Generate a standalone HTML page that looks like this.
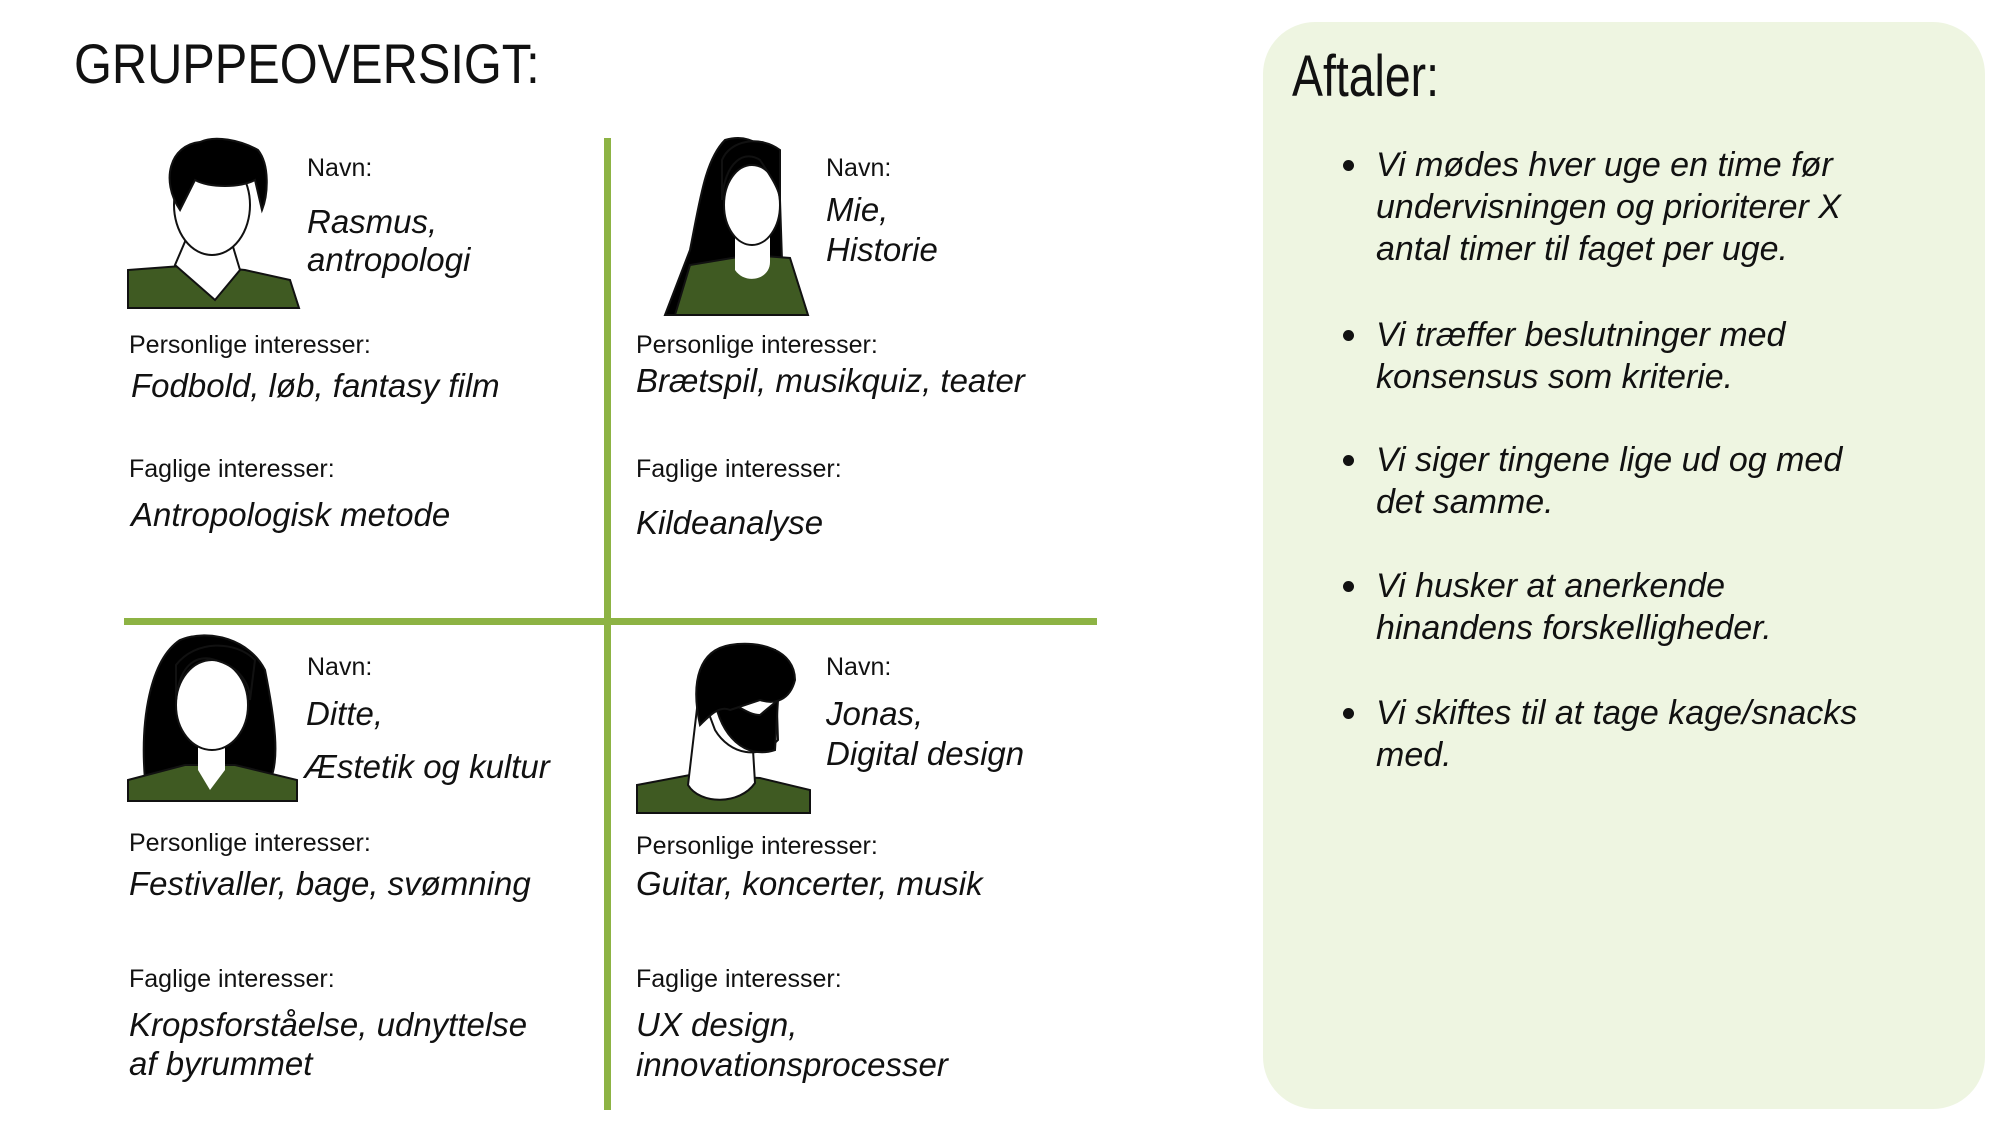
<!DOCTYPE html>
<html><head><meta charset="utf-8"><style>
body{margin:0;width:2000px;height:1130px;background:#fff;position:relative;overflow:hidden;font-family:"Liberation Sans",sans-serif;color:#111}
.t{position:absolute;white-space:nowrap}
.l{font-size:25px;line-height:30px}
.v{font-style:italic;font-size:33px;line-height:40px}
.a{font-style:italic;font-size:34px;line-height:42px;left:1376px}
.d{position:absolute;left:1343px;width:11px;height:11px;border-radius:50%;background:#111}
</style></head><body>
<div class="t" style="left:74px;top:30px;font-size:56px;line-height:68px;transform:scaleX(0.87);transform-origin:left">GRUPPEOVERSIGT:</div>
<div style="position:absolute;left:604px;top:138px;width:7px;height:972px;background:#8db344"></div>
<div style="position:absolute;left:124px;top:618px;width:973px;height:7px;background:#8db344"></div>
<div style="position:absolute;left:1263px;top:22px;width:722px;height:1087px;border-radius:52px;background:#eef5e1"></div>
<div class="t" style="left:1292px;top:43px;font-size:58px;line-height:68px;transform:scaleX(0.8);transform-origin:left">Aftaler:</div>

<div class="d" style="top:160px"></div>
<div class="t a" style="top:144px">Vi mødes hver uge en time før<br>undervisningen og prioriterer X<br>antal timer til faget per uge.</div>
<div class="d" style="top:330px"></div>
<div class="t a" style="top:314px">Vi træffer beslutninger med<br>konsensus som kriterie.</div>
<div class="d" style="top:455px"></div>
<div class="t a" style="top:439px">Vi siger tingene lige ud og med<br>det samme.</div>
<div class="d" style="top:581px"></div>
<div class="t a" style="top:565px">Vi husker at anerkende<br>hinandens forskelligheder.</div>
<div class="d" style="top:708px"></div>
<div class="t a" style="top:692px">Vi skiftes til at tage kage/snacks<br>med.</div>

<svg style="position:absolute;left:0;top:0" width="1100" height="1130">
<g stroke="#111" stroke-width="2">
<path d="M128 270 L195 265 L245 270 L290 280 L299 308 L128 308Z" fill="#3f5a22"/>
<path d="M190 230 L175 265 L215 300 L240 270 L228 230Z" fill="#fff"/>
<ellipse cx="212" cy="205" rx="38" ry="50" fill="#fff"/>
<path d="M180 210 C160 180 170 145 200 142 C215 135 240 140 258 150 C270 165 268 195 262 210 L255 180 C240 188 210 188 195 180 Z" fill="#000"/>
<path d="M665 315 L690 250 C700 200 705 160 725 140 C760 130 780 160 780 200 L782 260 L795 315Z" fill="#000"/>
<path d="M675 315 L690 265 L750 255 L790 258 L808 315Z" fill="#3f5a22"/>
<path d="M735 230 L735 270 C745 285 770 280 770 262 L770 230Z" fill="#fff" stroke="none"/>
<ellipse cx="752" cy="205" rx="28" ry="40" fill="#fff"/>
<path d="M722 200 C725 160 745 150 760 160 C770 175 780 190 780 200 L780 150 C760 135 730 140 722 160Z" fill="#000"/>
<path d="M145 780 C140 720 150 660 180 640 C210 628 250 640 265 670 C275 720 280 760 270 780Z" fill="#000"/>
<path d="M128 780 L185 765 L235 765 L297 780 L297 801 L128 801Z" fill="#3f5a22"/>
<path d="M198 740 L198 770 L210 790 L225 770 L225 740Z" fill="#fff" stroke="none"/>
<ellipse cx="212" cy="705" rx="36" ry="45" fill="#fff"/>
<path d="M176 700 C180 660 200 655 215 660 C235 665 250 680 250 700 L255 660 C235 640 195 640 176 665Z" fill="#000"/>
<path d="M637 785 L690 775 L760 778 L810 790 L810 813 L637 813Z" fill="#3f5a22"/>
<path d="M698 700 L688 785 C700 805 740 805 755 783 L750 700Z" fill="#fff"/>
<path d="M700 690 C700 650 720 645 740 650 L775 650 L778 740 C760 760 730 755 715 730Z" fill="#fff"/>
<path d="M715 700 C720 735 745 760 775 750 L778 700 L760 715 C745 715 735 700 715 700Z" fill="#000"/>
<path d="M700 725 C690 680 700 650 730 645 C760 640 795 650 795 680 C790 700 775 705 760 700 L730 710 C720 705 710 715 700 725Z" fill="#000"/>
</g>
</svg>

<div class="t l" style="left:307px;top:153px">Navn:</div>
<div class="t v" style="left:307px;top:202px">Rasmus,</div>
<div class="t v" style="left:307px;top:240px">antropologi</div>
<div class="t l" style="left:129px;top:330px">Personlige interesser:</div>
<div class="t v" style="left:131px;top:366px">Fodbold, løb, fantasy film</div>
<div class="t l" style="left:129px;top:454px">Faglige interesser:</div>
<div class="t v" style="left:131px;top:495px">Antropologisk metode</div>
<div class="t l" style="left:826px;top:153px">Navn:</div>
<div class="t v" style="left:826px;top:190px">Mie,</div>
<div class="t v" style="left:826px;top:230px">Historie</div>
<div class="t l" style="left:636px;top:330px">Personlige interesser:</div>
<div class="t v" style="left:636px;top:361px">Brætspil, musikquiz, teater</div>
<div class="t l" style="left:636px;top:454px">Faglige interesser:</div>
<div class="t v" style="left:636px;top:503px">Kildeanalyse</div>
<div class="t l" style="left:307px;top:652px">Navn:</div>
<div class="t v" style="left:306px;top:694px">Ditte,</div>
<div class="t v" style="left:304px;top:747px">Æstetik og kultur</div>
<div class="t l" style="left:129px;top:828px">Personlige interesser:</div>
<div class="t v" style="left:129px;top:864px">Festivaller, bage, svømning</div>
<div class="t l" style="left:129px;top:964px">Faglige interesser:</div>
<div class="t v" style="left:129px;top:1005px">Kropsforståelse, udnyttelse</div>
<div class="t v" style="left:129px;top:1044px">af byrummet</div>
<div class="t l" style="left:826px;top:652px">Navn:</div>
<div class="t v" style="left:826px;top:694px">Jonas,</div>
<div class="t v" style="left:826px;top:734px">Digital design</div>
<div class="t l" style="left:636px;top:831px">Personlige interesser:</div>
<div class="t v" style="left:636px;top:864px">Guitar, koncerter, musik</div>
<div class="t l" style="left:636px;top:964px">Faglige interesser:</div>
<div class="t v" style="left:636px;top:1005px">UX design,</div>
<div class="t v" style="left:636px;top:1045px">innovationsprocesser</div>
</body></html>
